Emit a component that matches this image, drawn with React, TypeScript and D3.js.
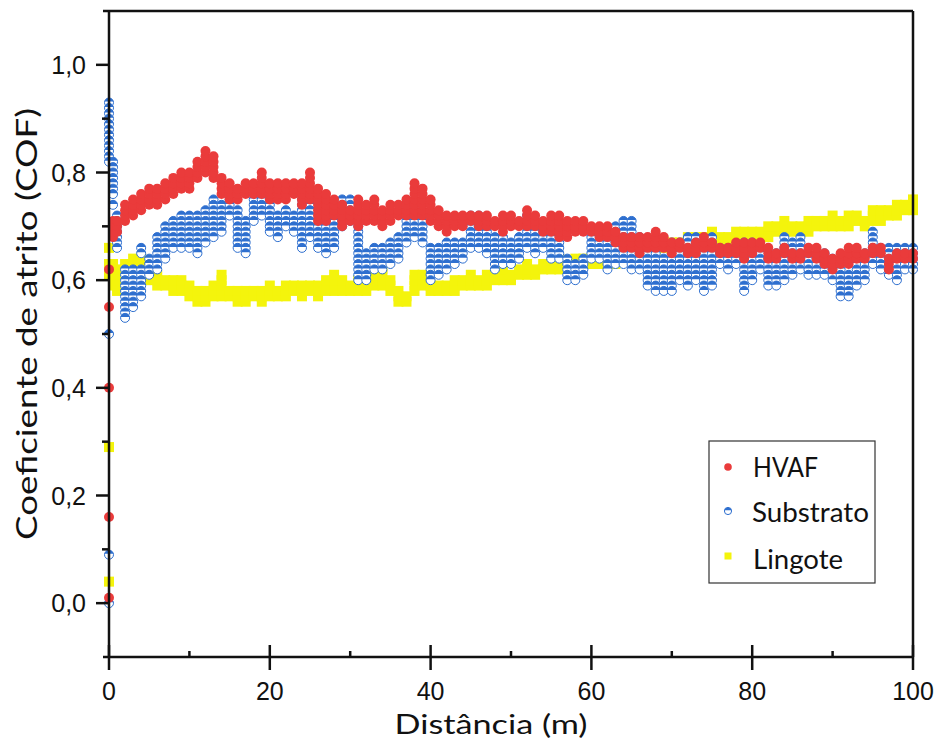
import React from "react";
import * as d3 from "d3";

// Distance (m) of each measurement column
const distanceM = [
  0, 0.5, 1, 2, 3, 4, 5, 6, 7, 8, 9, 10, 11, 12, 13, 14, 15, 16, 17, 18, 19, 20,
  21, 22, 23, 24, 25, 26, 27, 28, 29, 30, 31, 32, 33, 34, 35, 36, 37, 38, 39, 40,
  41, 42, 43, 44, 45, 46, 47, 48, 49, 50, 51, 52, 53, 54, 55, 56, 57, 58, 59, 60,
  61, 62, 63, 64, 65, 66, 67, 68, 69, 70, 71, 72, 73, 74, 75, 76, 77, 78, 79, 80,
  81, 82, 83, 84, 85, 86, 87, 88, 89, 90, 91, 92, 93, 94, 95, 96, 97, 98, 99, 100,
];

// COF readings (in hundredths) recorded at each distance column
const hvafCof = [
  [1, 16, 40, 55, 62], [68, 69, 70, 71], [69, 70, 71], [71, 72, 73, 74], [72, 73, 74, 75],
  [73, 74, 75, 76], [74, 75, 76, 77], [74, 75, 76, 77], [75, 76, 77, 78], [76, 77, 78, 79],
  [77, 78, 79, 80], [77, 78, 79, 80], [79, 80, 81, 82], [80, 81, 82, 83, 84], [79, 80, 81, 82, 83],
  [76, 77, 78, 79], [75, 76, 77, 78], [75, 76, 77], [76, 77, 78], [76, 77, 78],
  [76, 77, 78, 79, 80], [75, 76, 77, 78], [75, 76, 77, 78], [75, 76, 77, 78], [76, 77, 78],
  [74, 75, 76, 77, 78], [75, 76, 77, 78, 79, 80], [71, 72, 73, 74, 75, 76, 77], [71, 72, 73, 74, 75, 76], [72, 73, 74, 75],
  [70, 71, 72, 73, 74], [71, 72, 73], [70, 71, 72, 73, 74, 75], [71, 72, 73, 74], [71, 72, 73, 74, 75],
  [70, 71, 72, 73], [71, 72, 73, 74], [72, 73, 74], [72, 73, 74, 75], [72, 73, 74, 75, 76, 77, 78],
  [72, 73, 74, 75, 76, 77], [71, 72, 73, 74, 75], [70, 71, 72, 73], [69, 70, 71, 72], [70, 71, 72],
  [70, 71, 72], [71, 72], [70, 71, 72], [70, 71, 72], [70, 71],
  [69, 70, 71, 72], [70, 71, 72], [70, 71], [70, 71, 72, 73], [70, 71, 72],
  [69, 70, 71], [69, 70, 71, 72], [68, 69, 70, 71, 72], [68, 69, 70, 71], [69, 70, 71],
  [69, 70, 71], [69, 70], [68, 69, 70], [68, 69, 70], [67, 68, 69],
  [66, 67, 68], [66, 67, 68], [65, 66, 67, 68], [66, 67, 68], [66, 67, 68, 69],
  [66, 67, 68], [65, 66, 67], [66, 67], [65, 66], [65, 66, 67],
  [66, 67, 68], [66, 67], [65, 66], [65, 66], [65, 66, 67],
  [64, 65, 66, 67], [65, 66, 67], [66, 67], [64, 65, 66], [64, 65],
  [65, 66], [64, 65], [64, 65], [65, 66], [64, 65, 66],
  [63, 64, 65], [62, 63, 64], [63, 64, 65], [63, 64, 65, 66], [64, 65, 66],
  [64, 65], [65, 66], [65, 66], [62, 63, 64], [64, 65],
  [64, 65], [64, 65],
];

const substratoCof = [
  [0, 9, 50, 82, 83, 84, 85, 86, 87, 88, 89, 90, 91, 92, 93], [74, 76, 77, 78, 79, 80, 81, 82],
  [66, 67, 68, 69, 70, 71, 72], [53, 54, 55, 56, 57, 58, 59, 60, 61, 62], [55, 56, 57, 58, 59, 60, 61, 62],
  [57, 58, 59, 60, 61, 62, 65, 66], [61, 62, 63, 64], [62, 63, 64, 65, 66, 67, 68], [64, 65, 66, 67, 68, 69, 70],
  [66, 67, 68, 69, 70, 71], [66, 67, 68, 69, 70, 71, 72], [66, 67, 68, 69, 70, 71, 72], [65, 66, 67, 68, 69, 70, 71, 72],
  [67, 68, 69, 70, 71, 72, 73], [68, 69, 70, 71, 72, 73, 74, 75], [69, 70, 71, 72, 73, 74], [72, 73, 74, 75, 76, 77],
  [66, 67, 68, 69, 70, 71, 72, 73], [65, 66, 67, 68, 69, 70, 71], [71, 72, 73, 74, 75], [72, 73, 74, 75, 76],
  [69, 70, 71, 72, 73, 74], [68, 69, 70, 71, 72], [70, 71, 72, 73], [69, 70, 71, 72],
  [66, 67, 68, 69, 70, 71, 72, 73, 74, 75], [68, 69, 70, 71, 72, 73, 74], [66, 67, 68, 69, 70], [65, 66, 67, 68, 69, 70],
  [66, 67, 68, 69, 70, 71, 72, 73], [70, 71, 72, 73, 74, 75], [71, 72, 73, 74, 75],
  [60, 61, 62, 63, 64, 65, 66, 67, 68, 69, 70, 71, 72], [60, 61, 62, 63, 64, 65], [62, 63, 64, 65, 66],
  [62, 63, 64, 65, 66], [63, 64, 65, 66, 67], [64, 65, 66, 67, 68], [67, 68, 69, 70, 71, 72, 73, 74],
  [68, 69, 70, 71, 72, 73], [67, 68, 69, 70, 71], [60, 61, 62, 63, 64, 65, 66], [61, 62, 63, 64, 65, 66],
  [62, 63, 64, 65, 66, 67], [63, 64, 65, 66, 67], [64, 65, 66, 67], [66, 67, 68, 69, 70, 71, 72],
  [66, 67, 68, 69, 70, 71, 72], [65, 66, 67, 68, 69, 70], [62, 63, 64, 65, 66, 67, 68], [63, 64, 65, 66, 67, 68],
  [63, 64, 65, 66, 67], [64, 65, 66, 67, 68], [66, 67, 68, 69, 70, 71, 72], [65, 66, 67, 68, 69, 70, 71],
  [66, 67, 68, 69, 70], [64, 65, 66, 67, 68], [64, 65, 66, 67], [60, 61, 62, 63, 64],
  [60, 61, 62, 63], [61, 62, 63, 64], [64, 65, 66, 67, 68], [64, 65, 66, 67],
  [62, 63, 64, 65, 66, 67, 68, 69], [63, 64, 65, 66, 67, 68, 69, 70], [63, 64, 65, 66, 67, 68, 69, 70, 71],
  [62, 63, 64, 65, 66, 67, 68, 69, 70, 71], [62, 63, 64, 65, 66, 67, 68], [59, 60, 61, 62, 63, 64, 65, 66, 67],
  [58, 59, 60, 61, 62, 63, 64, 65], [58, 59, 60, 61, 62, 63, 64], [58, 59, 60, 61, 62, 63, 64, 65, 66, 67],
  [60, 61, 62, 63, 64, 65, 66, 67], [59, 60, 61, 62, 63, 64, 65, 66, 67, 68], [60, 61, 62, 63, 64, 65, 66, 67, 68],
  [58, 59, 60, 61, 62, 63, 64, 65, 66, 67], [59, 60, 61, 62, 63, 64, 65, 66, 67, 68], [63, 64, 65, 66],
  [62, 63, 64, 65, 66], [63, 64, 65, 66], [58, 59, 60, 61, 62, 63, 64, 65, 66, 67],
  [60, 61, 62, 63, 64, 65, 66, 67], [62, 63, 64, 65, 66], [59, 60, 61, 62, 63, 64],
  [59, 60, 61, 62, 63, 64, 65], [60, 61, 62, 63, 64, 65, 66, 67, 68], [61, 62, 63, 64, 65, 66, 67],
  [62, 63, 64, 65, 66, 67, 68], [61, 62, 63, 64], [61, 62, 63, 64], [61, 62, 63, 64, 65],
  [60, 61, 62, 63, 64], [57, 58, 59, 60, 61, 62], [57, 58, 59, 60, 61], [59, 60, 61, 62, 63, 64, 65],
  [60, 61, 62, 63, 64, 65], [63, 64, 65, 66, 67, 68, 69], [62, 63, 64, 65, 66], [61, 62, 63, 64, 65, 66],
  [60, 61, 62, 63, 64, 65, 66], [62, 63, 64, 65, 66], [62, 63, 64, 65, 66],
];

const lingoteCof = [
  [4, 29, 61, 63, 66], [59, 60, 61, 62, 63], [58, 59, 60, 61, 62], [60, 61, 62, 63], [61, 62, 63, 64],
  [61, 62, 63, 64], [60, 61, 62], [59, 60, 61], [59, 60], [58, 59, 60],
  [58, 59, 60], [57, 58, 59], [56, 57, 58], [56, 57, 58], [57, 58, 59],
  [57, 58, 59, 60, 61], [57, 58], [56, 57, 58], [56, 57, 58], [57, 58],
  [56, 57, 58], [57, 58, 59], [57, 58], [57, 58, 59], [58, 59],
  [57, 58, 59], [58, 59], [57, 58, 59], [58, 59, 60], [58, 59, 60, 61],
  [58, 59, 60], [58, 59], [58, 59, 60], [58, 59, 60], [59, 60, 61],
  [59, 60, 61, 62], [58, 59, 60], [56, 57, 58], [56, 57], [58, 59, 60, 61],
  [59, 60, 61], [58, 59], [58, 59], [58, 59], [58, 59, 60],
  [59, 60], [59, 60, 61], [59, 60], [59, 60, 61], [60, 61],
  [60, 61, 62], [60, 61], [61, 62], [61, 62, 63], [61, 62],
  [62, 63], [62, 63], [62, 63, 64], [62, 63], [63, 64],
  [63, 64], [63, 64], [63, 64], [63, 64, 65], [63, 64],
  [64, 65], [64, 65, 66], [65, 66], [65, 66], [65, 66, 67],
  [66, 67], [66, 67], [66, 67], [66, 67, 68], [67, 68],
  [67, 68], [67, 68, 69], [67, 68], [67, 68], [67, 68, 69],
  [68, 69], [68, 69], [68, 69], [68, 69, 70], [69, 70],
  [69, 70, 71], [69, 70], [69, 70], [69, 70, 71], [70, 71],
  [70, 71], [70, 71, 72], [70, 71], [70, 71, 72], [71, 72],
  [70, 71], [71, 72, 73], [71, 72, 73], [72, 73], [72, 73, 74],
  [73, 74], [73, 74, 75],
];

const xTicksMajor = [0, 20, 40, 60, 80, 100];
const xTicksMinor = [10, 30, 50, 70, 90];
const yTicksMajor = [0, 0.2, 0.4, 0.6, 0.8, 1.0];
const yTicksMinor = [0.1, 0.3, 0.5, 0.7, 0.9];

const seriesNames = ["HVAF", "Substrato", "Lingote"];

const W = 941;
const H = 745;
const x = d3.scaleLinear().domain([0, 100]).range([109, 913]);
const y = d3.scaleLinear().domain([-0.1, 1.1]).range([657, 11]);

const RED = "#ea3b3b";
const BLUE = "#2e6fcf";
const YELLOW = "#f4f40c";

type Pt = { x: number; y: number };
function flatten(cols: number[][]): Pt[] {
  const out: Pt[] = [];
  cols.forEach((vals, i) => {
    vals.forEach((v) => out.push({ x: distanceM[i], y: v / 100 }));
  });
  return out;
}

const fmt = (v: number) => d3.format(".1f")(v).replace(".", ",");

function BlueMarker({ cx, cy, r }: { cx: number; cy: number; r: number }) {
  const c = r * 0.2;
  const hw = Math.sqrt(r * r - c * c);
  return (
    <g transform={`translate(${cx},${cy})`}>
      <circle r={r} fill="#ffffff" stroke={BLUE} strokeWidth={1} />
      <path d={`M${-hw},${-c} A${r},${r} 0 0 1 ${hw},${-c} Z`} fill={BLUE} />
    </g>
  );
}

export default function App() {
  const red = flatten(hvafCof);
  const blue = flatten(substratoCof).sort((a, b) => b.y - a.y);
  const yel = flatten(lingoteCof);
  const axisColor = "#111";
  const titleFont = "Lato, 'Open Sans', sans-serif";
  const tickFont = "'Liberation Sans', Arial, sans-serif";
  const sq = 10;

  return (
    <svg
      width={W}
      height={H}
      style={{ position: "absolute", left: 0, top: 0, background: "#fff" }}
    >
      {/* data */}
      <g>
        {yel.map((p, i) => (
          <rect key={"y" + i} x={x(p.x) - sq / 2} y={y(p.y) - sq / 2} width={sq} height={sq} fill={YELLOW} />
        ))}
      </g>
      <g>
        {blue.map((p, i) => (
          <BlueMarker key={"b" + i} cx={x(p.x)} cy={y(p.y)} r={4.5} />
        ))}
      </g>
      <g>
        {red.map((p, i) => (
          <circle key={"r" + i} cx={x(p.x)} cy={y(p.y)} r={5} fill={RED} />
        ))}
      </g>

      {/* frame */}
      <g stroke={axisColor} strokeWidth={2.5} fill="none">
        <line x1={103} x2={913} y1={y(1.1)} y2={y(1.1)} />
        <line x1={103} x2={913} y1={y(-0.1)} y2={y(-0.1)} />
        <line x1={x(0)} x2={x(0)} y1={y(1.1)} y2={y(-0.1)} />
        <line x1={x(100)} x2={x(100)} y1={y(1.1)} y2={y(-0.1)} />
        {xTicksMajor.map((t) => (
          <line key={"xm" + t} x1={x(t)} x2={x(t)} y1={y(-0.1) - 12} y2={y(-0.1) + 13} />
        ))}
        {xTicksMinor.map((t) => (
          <line key={"xn" + t} x1={x(t)} x2={x(t)} y1={y(-0.1) - 6} y2={y(-0.1)} />
        ))}
        {yTicksMajor.map((t) => (
          <line key={"ym" + t} x1={x(0) - 13} x2={x(0)} y1={y(t)} y2={y(t)} />
        ))}
        {yTicksMinor.map((t) => (
          <line key={"yn" + t} x1={x(0) - 7} x2={x(0)} y1={y(t)} y2={y(t)} />
        ))}
      </g>

      {/* tick labels */}
      <g fontFamily={tickFont} fontSize={25} fill="#111">
        {xTicksMajor.map((t) => (
          <text key={"xl" + t} x={x(t)} y={700} textAnchor="middle">
            {t}
          </text>
        ))}
        {yTicksMajor.map((t) => (
          <text key={"yl" + t} x={86} y={y(t) + 9} textAnchor="end">
            {fmt(t)}
          </text>
        ))}
      </g>

      {/* axis titles */}
      <text
        x={491}
        y={734}
        textAnchor="middle"
        fontFamily={titleFont}
        fontSize={27}
        fill="#111"
        textLength={193}
        lengthAdjust="spacingAndGlyphs"
      >
        Distância (m)
      </text>
      <text
        transform={`translate(37,324) rotate(-90)`}
        textAnchor="middle"
        fontFamily={titleFont}
        fontSize={29}
        fill="#111"
        textLength={432}
        lengthAdjust="spacingAndGlyphs"
      >
        Coeficiente de atrito (COF)
      </text>

      {/* legend */}
      <g>
        <rect x={709} y={441} width={166} height={142} fill="#fff" stroke="#333" strokeWidth={1.2} />
        <circle cx={728} cy={467} r={3.8} fill={RED} />
        <BlueMarker cx={728} cy={511} r={3.6} />
        <rect x={724.5} y={552.5} width={7} height={7} fill={YELLOW} />
        <g fontFamily={titleFont} fontSize={27} fill="#111">
          <text x={753} y={477} textLength={65} lengthAdjust="spacingAndGlyphs">{seriesNames[0]}</text>
          <text x={752} y={522} textLength={117} lengthAdjust="spacingAndGlyphs">{seriesNames[1]}</text>
          <text x={753} y={569} textLength={90} lengthAdjust="spacingAndGlyphs">{seriesNames[2]}</text>
        </g>
      </g>
    </svg>
  );
}
